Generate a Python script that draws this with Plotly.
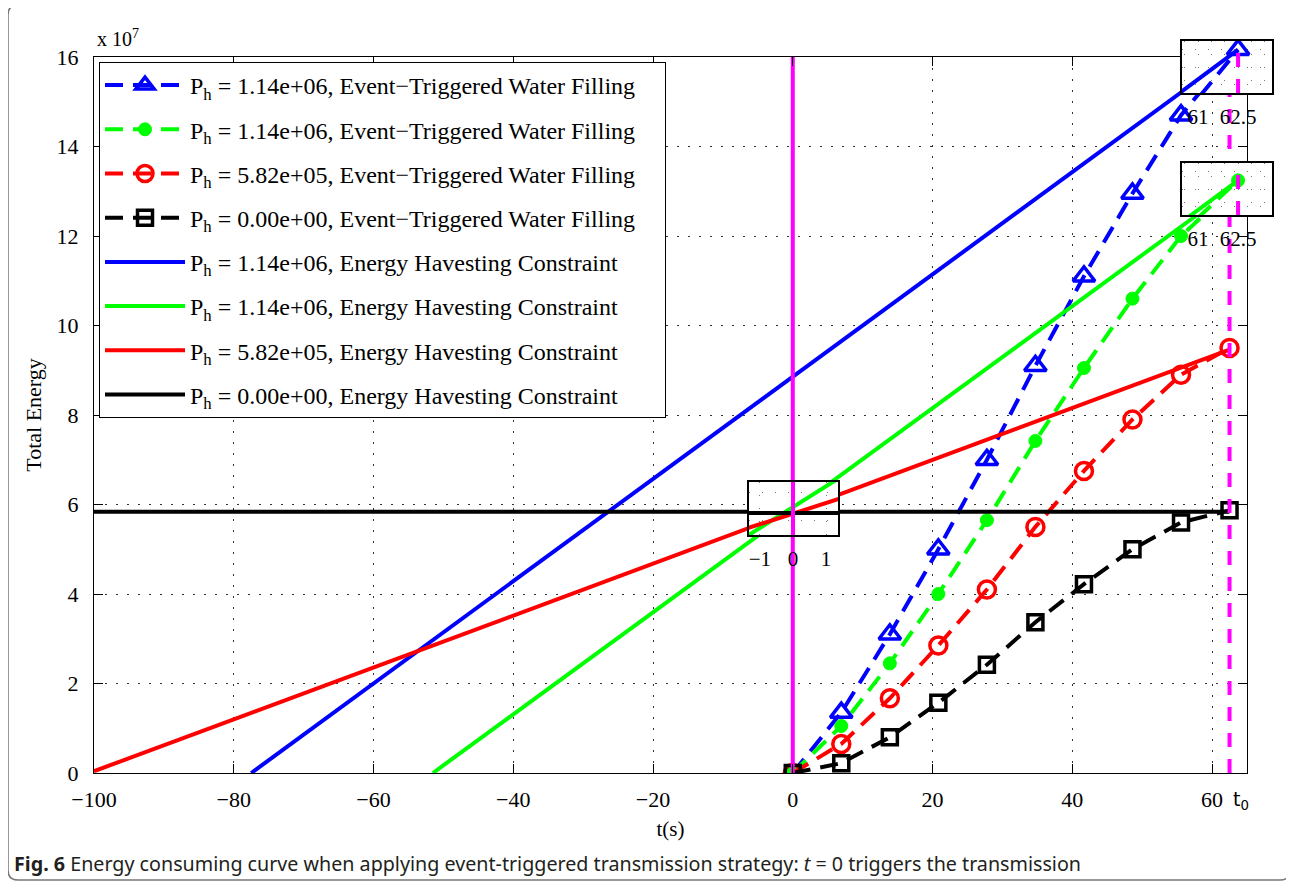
import plotly.graph_objects as go

# ---------------- data (Total Energy in units of 1e7) ----------------
t_et = [0, 6.94, 13.89, 20.83, 27.78, 34.72, 41.67, 48.61, 55.56, 62.5]
e_et_blue = [0, 1.35, 3.1, 5.0, 7.0, 9.1, 11.1, 12.95, 14.7, 16.0]
e_et_green = [0, 1.05, 2.45, 4.0, 5.65, 7.42, 9.05, 10.6, 12.0, 13.0]
e_et_red = [0, 0.65, 1.67, 2.85, 4.1, 5.5, 6.75, 7.9, 8.9, 9.5]
e_et_black = [0, 0.22, 0.8, 1.57, 2.42, 3.37, 4.22, 5.0, 5.6, 5.87]

t_eh_blue = [-77.5, 62.5]
e_eh_blue = [0, 16.0]
t_eh_green = [-51.5, 62.5]
e_eh_green = [0, 13.0]
t_eh_red = [-100, 62.5]
e_eh_red = [0.04, 9.46]
t_eh_black = [-100, 62.5]
e_eh_black = [5.84, 5.84]

t_trigger = [0, 0]
e_trigger = [0, 16]
t_zero = [62.5, 62.5]
e_zero = [0, 16]

ph_labels = ["1.14e+06", "1.14e+06", "5.82e+05", "0.00e+00"]
x_tickvals = [-100, -80, -60, -40, -20, 0, 20, 40, 60]
y_tickvals = [0, 2, 4, 6, 8, 10, 12, 14, 16]

# ---------------- styling ----------------
COLORS = ["#0000FF", "#00FF00", "#FF0000", "#000000"]
MAG = "#FF00FF"
SERIF = "Liberation Serif"
OFF = 8  # page body margin
W, H = 1294 - OFF, 892 - OFF
ML = 94 - OFF
MT = 41 - OFF
MR = W - (1272 - OFF)
MB = H - (773 - OFF)
PW, PH = W - ML - MR, H - MT - MB


def px2x(px):
    return (px - OFF - ML) / PW


def py2y(py):
    return (H - MB - (py - OFF)) / PH


et_series = [e_et_blue, e_et_green, e_et_red, e_et_black]
eh_series = [(t_eh_blue, e_eh_blue), (t_eh_green, e_eh_green),
             (t_eh_red, e_eh_red), (t_eh_black, e_eh_black)]
markers = [
    dict(symbol="triangle-up-open", size=19, line=dict(width=3.5, color=COLORS[0]), color=COLORS[0]),
    dict(symbol="circle", size=13, line=dict(width=1, color=COLORS[1]), color=COLORS[1]),
    dict(symbol="circle-open", size=17, line=dict(width=3.5, color=COLORS[2]), color=COLORS[2]),
    dict(symbol="square-open", size=15, line=dict(width=3.5, color=COLORS[3]), color=COLORS[3]),
]
PAD = "\u00a0" * 4

fig = go.Figure()


def add_set(xa, ya, which_et, which_eh, trig, zero, legend=False):
    for i in which_et:
        fig.add_trace(go.Scatter(
            x=t_et, y=et_series[i], mode="lines+markers", xaxis=xa, yaxis=ya,
            line=dict(color=COLORS[i], width=4, dash="18px,10px"),
            marker=markers[i], showlegend=legend, legendgroup="et%d" % i,
            name="P<sub>h</sub> = %s, Event\u2212Triggered Water Filling%s" % (ph_labels[i], PAD)))
    for i in which_eh:
        tx, ey = eh_series[i]
        fig.add_trace(go.Scatter(
            x=tx, y=ey, mode="lines", xaxis=xa, yaxis=ya,
            line=dict(color=COLORS[i], width=4),
            showlegend=legend, legendgroup="eh%d" % i,
            name="P<sub>h</sub> = %s, Energy Havesting Constraint" % ph_labels[i]))
    if trig:
        fig.add_trace(go.Scatter(x=t_trigger, y=e_trigger, mode="lines", xaxis=xa, yaxis=ya,
                                 line=dict(color=MAG, width=4), showlegend=False))
    if zero:
        fig.add_trace(go.Scatter(x=t_zero, y=e_zero, mode="lines", xaxis=xa, yaxis=ya,
                                 line=dict(color=MAG, width=4, dash="14px,12px"), showlegend=False))


# main plot
add_set("x", "y", [0, 1, 2, 3], [0, 1, 2, 3], True, True, legend=True)
# insets
add_set("x2", "y2", [], [1, 2, 3], True, False)
add_set("x3", "y3", [0], [0], False, True)
add_set("x4", "y4", [1], [1], False, True)

GRIDDASH = "1.5px,9.5px"
grid = dict(showgrid=True, gridcolor="#333", gridwidth=1, griddash=GRIDDASH)
igrid = dict(showgrid=True, gridcolor="#777", gridwidth=1, griddash="1px,12px")
tickfont = dict(family=SERIF, size=22, color="black")

fig.update_layout(
    width=W, height=H,
    margin=dict(l=ML, r=MR, t=MT, b=MB),
    paper_bgcolor="white", plot_bgcolor="white",
    showlegend=True,
    legend=dict(x=px2x(99), y=py2y(62), xanchor="left", yanchor="top",
                bgcolor="white", bordercolor="black", borderwidth=1,
                font=dict(family=SERIF, size=24, color="black"),
                traceorder="grouped", tracegroupgap=10, itemwidth=80),
    xaxis=dict(domain=[0, px2x(1247)], range=[-100, 65], tickvals=x_tickvals,
               ticks="inside", ticklen=9, tickcolor="black", showline=True, linecolor="black",
               mirror="ticks", zeroline=False, tickfont=tickfont, ticklabelstandoff=7,
               title=dict(text="t(s)", font=dict(family=SERIF, size=21, color="black"), standoff=9),
               **grid),
    yaxis=dict(domain=[0, py2y(57)], range=[0, 16], tickvals=y_tickvals,
               ticks="inside", ticklen=9, tickcolor="black", showline=True, linecolor="black",
               mirror="ticks", zeroline=False, tickfont=tickfont, ticklabelstandoff=10,
               title=dict(text="Total Energy", font=dict(family=SERIF, size=22, color="black"), standoff=8),
               **grid),
)

inset_font = dict(family=SERIF, size=21, color="black")
insets = [
    ("2", [px2x(749), px2x(838)], [py2y(535), py2y(482)], [-1.33, 1.36], [5.72, 6.01],
     [-1, 0, 1], [5.8, 5.95], None),
    ("3", [px2x(1182), 1.0], [py2y(93), py2y(41)], [60.4, 63.77], [15.75, 16.05],
     [61, 62.5], [15.8, 15.9, 16.0], 0.5),
    ("4", [px2x(1182), 1.0], [py2y(215), py2y(163)], [60.4, 63.77], [12.8, 13.1],
     [61, 62.5], [12.85, 12.95, 13.05], 0.5),
]
for k, dx, dy, xr, yr, tv, ytv, minor in insets:
    xa = dict(domain=dx, range=xr, anchor="y" + k, tickvals=tv, ticks="",
              showline=True, linecolor="black", linewidth=1.5, mirror=True,
              zeroline=False, tickfont=inset_font, ticklabelstandoff=4, **igrid)
    if minor:
        xa["minor"] = dict(showgrid=True, dtick=minor, gridcolor="#777", griddash="1px,12px")
    fig.update_layout(**{
        "xaxis" + k: xa,
        "yaxis" + k: dict(domain=dy, range=yr, anchor="x" + k, showticklabels=False, ticks="",
                          showline=True, linecolor="black", linewidth=1.5, mirror=True,
                          zeroline=False, tickvals=ytv, **igrid),
    })
    fig.add_shape(type="rect", xref="x" + k, yref="y" + k, x0=xr[0], x1=xr[1], y0=yr[0], y1=yr[1],
                  fillcolor="white", line=dict(width=0), layer="below")

# exponent label and t0 label
fig.add_annotation(x=px2x(95), y=py2y(38), xref="paper", yref="paper", xanchor="left", yanchor="middle",
                   text="x 10<sup>7</sup>", showarrow=False, font=dict(family=SERIF, size=20, color="black"))
fig.add_annotation(x=px2x(1231), y=py2y(800), xref="paper", yref="paper", xanchor="left", yanchor="middle",
                   text="t<sub>0</sub>", showarrow=False, font=dict(family="DejaVu Sans", size=19, color="black"))

# caption
fig.add_annotation(x=px2x(12), y=py2y(863), xref="paper", yref="paper", xanchor="left", yanchor="middle",
                   showarrow=False, font=dict(family="Noto Sans", size=19.7, color="#231f20"),
                   text="<b>Fig. 6</b> Energy consuming curve when applying event-triggered transmission strategy: "
                        "<i>t</i> = 0 triggers the transmission")

# outer rounded frame
L, R, T, B = px2x(8), px2x(1290), py2y(5), py2y(880)
rx, ry = 10 / PW, 10 / PH
path = (f"M {L+rx},{T} L {R-rx},{T} Q {R},{T} {R},{T-ry} L {R},{B+ry} Q {R},{B} {R-rx},{B} "
        f"L {L+rx},{B} Q {L},{B} {L},{B+ry} L {L},{T-ry} Q {L},{T} {L+rx},{T} Z")
fig.add_shape(type="path", path=path, xref="paper", yref="paper", line=dict(color="#777", width=1.5),
              layer="below")

fig.write_html("out.html")
